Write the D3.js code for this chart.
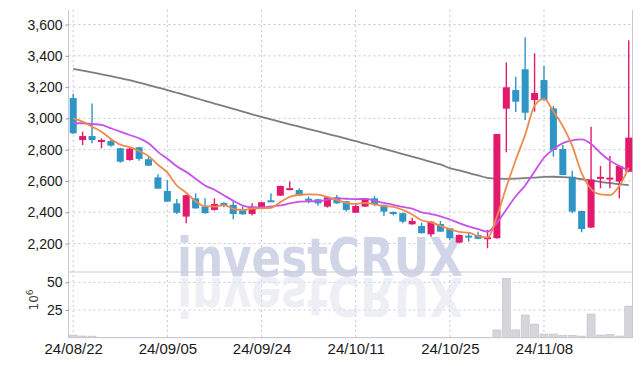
<!DOCTYPE html>
<html><head><meta charset="utf-8">
<script src="https://cdn.jsdelivr.net/npm/d3@7"></script>
<style>
html,body{margin:0;padding:0;background:#fff;}
svg{display:block;}
</style></head>
<body><svg id="chart" width="642" height="366"></svg>
<script>
const dates = ["24/08/22","24/08/23","24/08/26","24/08/27","24/08/28","24/08/29","24/08/30",
"24/09/02","24/09/03","24/09/04","24/09/05","24/09/06","24/09/09","24/09/10","24/09/11","24/09/12","24/09/13",
"24/09/19","24/09/20","24/09/23","24/09/24","24/09/25","24/09/26","24/09/27","24/09/30",
"24/10/02","24/10/04","24/10/07","24/10/08","24/10/10","24/10/11","24/10/14","24/10/15","24/10/16","24/10/17","24/10/18",
"24/10/21","24/10/22","24/10/23","24/10/24","24/10/25","24/10/28","24/10/29","24/10/30","24/10/31",
"24/11/01","24/11/04","24/11/05","24/11/06","24/11/07","24/11/08","24/11/11","24/11/12","24/11/13","24/11/14","24/11/15",
"24/11/18","24/11/19","24/11/20","24/11/21"];
const opens  = [3130,2862,2887,2849,2855,2809,2734,2815,2739,2623,2536,2457,2372,2489,2436,2415,2457,2447,2419,2389,
                2425,2472,2506,2542,2542,2482,2483,2436,2496,2470,2397,2436,2489,2447,2402,2394,2323,2312,2259,2325,
                2298,2206,2246,2255,2232,2234,3062,3181,3314,3117,3245,3064,2804,2627,2408,2302,2616,2612,2596,2659];
const highs  = [3157,2915,3096,2873,2868,2812,2815,2818,2756,2643,2606,2485,2512,2521,2490,2489,2464,2479,2436,2457,
                2466,2521,2570,2596,2553,2500,2486,2498,2511,2472,2457,2491,2504,2450,2405,2398,2365,2334,2342,2344,
                2300,2257,2272,2276,2287,2900,3358,3267,3518,3416,3335,3079,2830,2666,2410,2947,2696,2759,2700,3500];
const lows   = [2900,2830,2841,2809,2819,2717,2730,2730,2695,2548,2466,2389,2330,2422,2390,2410,2432,2355,2384,2380,
                2422,2466,2504,2540,2504,2457,2442,2430,2455,2404,2395,2434,2440,2376,2380,2330,2320,2264,2244,2274,
                2223,2204,2212,2228,2170,2232,2783,3041,2990,3043,3115,2755,2636,2394,2272,2300,2553,2553,2489,2655];
const closes = [2905,2887,2862,2862,2826,2723,2806,2741,2698,2551,2468,2397,2509,2425,2394,2453,2449,2389,2387,2436,
                2464,2468,2568,2553,2506,2478,2457,2496,2457,2415,2440,2489,2453,2404,2389,2340,2344,2266,2340,2276,
                2234,2255,2242,2230,2236,2900,3199,3107,3036,3162,3117,2798,2638,2404,2293,2610,2624,2618,2696,2877];
const volumes = [2.4,1.5,1.4,0.3,0.3,0.3,0.3,0.3,0.3,0.3,0.3,0.3,0.3,0.3,0.3,0.3,0.3,0.3,0.3,0.3,
                 0.3,0.3,0.3,0.3,0.3,0.3,0.3,0.3,0.3,0.3,0.3,0.3,0.3,0.3,0.3,0.3,0.3,0.3,0.3,0.3,
                 0.3,0.3,0.3,0.3,0.3,7,53.6,7,20.5,12.3,3.3,3.3,2.1,2.1,1.5,21.4,2.4,3,1.5,28.6];
// moving-average values read off the chart where earlier closes are not shown
const ma5Lead  = [3000,2979,2947,2915];
const ma10Lead = [2969,2969,2964,2958,2937,2915,2894,2873,2841];
const ma120 = [3316,3305,3294,3282,3270,3258,3244,3229,3213,3197,3181,3164,3147,3130,3112,3095,3078,3061,3044,3026,
               3009,2993,2978,2962,2947,2932,2917,2901,2886,2870,2855,2838,2822,2805,2789,2772,2755,2739,2722,2706,
               2682,2667,2651,2635,2620,2615,2614,2615,2618,2622,2626,2627,2625,2620,2611,2602,2594,2586,2580,2574];
const priceTicks = [2200,2400,2600,2800,3000,3200,3400,3600];
const volTicks = [25,50];
const dateTickIdx = [0,10,20,30,40,50];

function movingAvg(n, lead){
  return closes.map((c,i)=> i < n-1 ? lead[i] : d3.mean(closes.slice(i-n+1,i+1)));
}
const ma5 = movingAvg(5, ma5Lead);
const ma10 = movingAvg(10, ma10Lead);

const svg = d3.select("#chart");
const L = 68.5, R = 632.5, PT = 10, PB = 272, VT = 272.7, VB = 337.7;
const x = d3.scaleLinear().domain([-0.5, 59.4]).range([L, R]);
const y = d3.scaleLinear().domain([2018, 3693]).range([PB, PT]);
const yv = d3.scaleLinear().domain([0, 58.7]).range([VB, VT]);

const RED = "#e31a6b", BLUE = "#2e95c5", GRID = "#c4c7dc", FRAME = "#c9cad8";
const FONT = "'Liberation Sans Narrow', 'Liberation Sans', sans-serif";

// grid
const g = svg.append("g");
g.selectAll("line.hp").data(priceTicks).join("line")
  .attr("x1", L).attr("x2", R).attr("y1", d=>y(d)).attr("y2", d=>y(d))
  .attr("stroke", GRID).attr("stroke-dasharray","2,3").attr("stroke-width",1);
g.selectAll("line.hv").data(volTicks).join("line").attr("class","hv")
  .attr("x1", L).attr("x2", R).attr("y1", d=>yv(d)).attr("y2", d=>yv(d))
  .attr("stroke", GRID).attr("stroke-dasharray","2,3").attr("stroke-width",1);
g.selectAll("line.vg").data(dateTickIdx).join("line").attr("class","vg")
  .attr("x1", d=>x(d)).attr("x2", d=>x(d)).attr("y1", PT).attr("y2", VB)
  .attr("stroke", GRID).attr("stroke-dasharray","2,3").attr("stroke-width",1);

// watermark
const wm = svg.append("g");
wm.append("text").attr("x", 320).attr("y", 276).attr("text-anchor","middle")
  .attr("font-family","'DejaVu Sans', sans-serif").attr("font-weight","bold")
  .attr("font-size", 54).attr("textLength", 286).attr("lengthAdjust","spacingAndGlyphs")
  .attr("fill","#ccd2e6").attr("opacity",0.9).text("investCRUX");
wm.append("text").attr("x", 320).attr("y", -278).attr("transform","scale(1,-1)").attr("text-anchor","middle")
  .attr("font-family","'DejaVu Sans', sans-serif").attr("font-weight","bold")
  .attr("font-size", 54).attr("textLength", 286).attr("lengthAdjust","spacingAndGlyphs")
  .attr("fill","#e3e6f0").attr("opacity",0.6).text("investCRUX");

// frame
svg.append("line").attr("x1",L).attr("x2",L).attr("y1",PT).attr("y2",VB).attr("stroke",FRAME);
svg.append("line").attr("x1",R).attr("x2",R).attr("y1",PT).attr("y2",VB).attr("stroke",FRAME);
svg.append("line").attr("x1",L).attr("x2",R).attr("y1",PB).attr("y2",PB).attr("stroke",FRAME);
svg.append("line").attr("x1",L).attr("x2",R).attr("y1",VB).attr("y2",VB).attr("stroke",FRAME);

// volume bars
svg.append("g").selectAll("rect").data(volumes).join("rect")
  .attr("x",(d,i)=>x(i)-4).attr("width",8)
  .attr("y",d=>yv(d)).attr("height",d=>VB-yv(d))
  .attr("fill","#d5d5da").attr("stroke","#bfc0c8").attr("stroke-width",0.6);

// moving averages
const line = arr => d3.line().x((d,i)=>x(i)).y(d=>y(d)).curve(d3.curveMonotoneX)(arr);
svg.append("path").attr("d", line(ma120)).attr("fill","none").attr("stroke","#7d7d7d").attr("stroke-width",1.8);

// candles
const cg = svg.append("g");
closes.forEach((c,i)=>{
  const o = opens[i], up = c >= o, col = up ? RED : BLUE;
  cg.append("line").attr("x1",x(i)).attr("x2",x(i)).attr("y1",y(highs[i])).attr("y2",y(lows[i]))
    .attr("stroke",col).attr("stroke-width",1.4);
  const top = y(Math.max(o,c)), bot = y(Math.min(o,c));
  const h = Math.max(2, bot-top);
  cg.append("rect").attr("x",x(i)-3.5).attr("width",7)
    .attr("y", h===2 ? (top+bot)/2-1 : top).attr("height",h).attr("fill",col);
});

svg.append("path").attr("d", line(ma10)).attr("fill","none").attr("stroke","#c653e8").attr("stroke-width",1.8);
svg.append("path").attr("d", line(ma5)).attr("fill","none").attr("stroke","#ef8a4c").attr("stroke-width",1.8);

// axes labels
const ya = svg.append("g").attr("transform",`translate(${L},0)`)
  .call(d3.axisLeft(y).tickValues(priceTicks).tickSize(3).tickFormat(d3.format(",")));
ya.select(".domain").remove();
ya.selectAll("line").attr("stroke","#999");
ya.selectAll("text").attr("font-family",FONT).attr("font-size",14).attr("fill","#1a1a1a").attr("x",-6);

const va = svg.append("g").attr("transform",`translate(${L},0)`)
  .call(d3.axisLeft(yv).tickValues(volTicks).tickSize(3));
va.select(".domain").remove();
va.selectAll("line").attr("stroke","#999");
va.selectAll("text").attr("font-family",FONT).attr("font-size",14).attr("fill","#1a1a1a").attr("x",-6);

const xa = svg.append("g").attr("transform",`translate(0,${VB})`)
  .call(d3.axisBottom(x).tickValues(dateTickIdx).tickSize(0).tickFormat(i=>dates[i]));
xa.select(".domain").remove();
xa.selectAll("text").attr("font-family",FONT).attr("font-size",15).attr("fill","#1a1a1a").attr("dy","0.9em");

const vl = svg.append("text").attr("transform","translate(38,300) rotate(-90)")
  .attr("text-anchor","middle").attr("font-family","'DejaVu Sans', sans-serif").attr("font-size",12).attr("fill","#444");
vl.append("tspan").text("10");
vl.append("tspan").attr("dy",-5).attr("font-size",9).text("6");
</script></body></html>
